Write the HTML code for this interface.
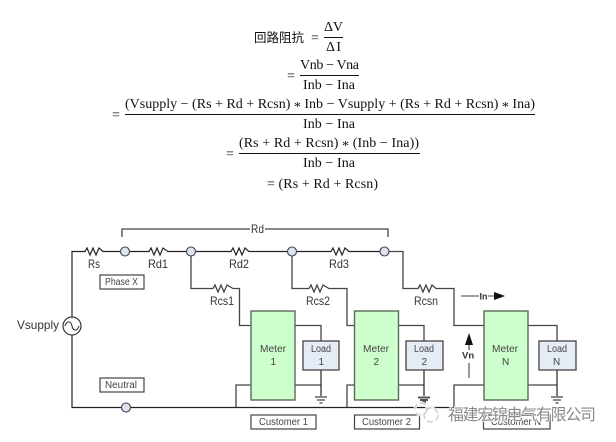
<!DOCTYPE html>
<html><head><meta charset="utf-8">
<style>
html,body{margin:0;padding:0;background:#fff;width:616px;height:442px;overflow:hidden}
svg{display:block;filter:blur(.3px)}
.m{font-family:"Liberation Serif","Noto Serif CJK SC",serif;font-size:14px;fill:#111}
.s{font-family:"Liberation Sans",sans-serif;font-size:12px;fill:#333}
.b{font-family:"Liberation Sans",sans-serif;font-size:10px;fill:#444}
.w{fill:none;stroke:#222;stroke-width:1.2}
.g{fill:none;stroke:#444;stroke-width:1.3}
.n{fill:#dde4f0;stroke:#445;stroke-width:1.1}
.mt{fill:#ccffcc;stroke:#5a6a5a;stroke-width:1.4}
.ld{fill:#e6ecf6;stroke:#444;stroke-width:1.3}
.bx{fill:#fff;stroke:#444;stroke-width:1.2}
</style></head><body>
<svg width="616" height="442" viewBox="0 0 616 442" xmlns="http://www.w3.org/2000/svg">
<!-- equations -->
<text class="m" x="254" y="42" textLength="50" style="font-family:'Noto Sans CJK SC',sans-serif;font-size:12.5px">回路阻抗</text>
<text class="m" x="311" y="42">=</text>
<text class="m" x="324" y="31" textLength="19">Δ V</text>
<path d="M324 37.5H343" stroke="#111"/>
<text class="m" x="326" y="51" textLength="15">Δ I</text>
<text class="m" x="287" y="80">=</text>
<text class="m" x="300" y="69" textLength="59">Vnb − Vna</text>
<path d="M300 75.5H359" stroke="#111"/>
<text class="m" x="303" y="89" textLength="52">Inb − Ina</text>
<text class="m" x="112" y="119">=</text>
<text class="m" x="125" y="108" textLength="410">(Vsupply − (Rs + Rd + Rcsn) <tspan dy="3">*</tspan><tspan dy="-3"> Inb − Vsupply + (Rs + Rd + Rcsn) </tspan><tspan dy="3">*</tspan><tspan dy="-3"> Ina)</tspan></text>
<path d="M125 114.5H535" stroke="#111"/>
<text class="m" x="303" y="128" textLength="52">Inb − Ina</text>
<text class="m" x="226" y="158">=</text>
<text class="m" x="239" y="147" textLength="180">(Rs + Rd + Rcsn) <tspan dy="3">*</tspan><tspan dy="-3"> (Inb − Ina))</tspan></text>
<path d="M239 153.5H420" stroke="#111"/>
<text class="m" x="303" y="167" textLength="52">Inb − Ina</text>
<text class="m" x="267" y="188" textLength="111">= (Rs + Rd + Rcsn)</text>

<!-- Rd bracket -->
<path class="g" d="M122 237V229H250M265 229H388V237"/>
<text class="s" x="251" y="233" textLength="13" lengthAdjust="spacingAndGlyphs">Rd</text>

<!-- main phase wires -->
<path class="w" d="M72 317V251.500H85L87 248L90 255L93 248L96 255L99 248L103 251.500H125"/>
<path class="w" d="M125 251.500H149L151 248L154 255L157 248L160 255L163 248L168 251.500H191"/>
<path class="w" d="M191 251.500H231L233 248L236 255L239 248L242 255L245 248L249 251.500H292"/>
<path class="w" d="M292 251.500H331L333 248L336 255L339 248L342 255L345 248L349 251.500H384"/>
<path class="g" d="M384 251.500H403V288.500H418L420 285L423 292L426 285L429 292L432 285L436 288.500H454V325.500H484"/>
<path class="g" d="M191 251.500V288.500H213L215 285L218 292L221 285L224 292L227 285L233 288.500H239.500V325.500H251"/>
<path class="g" d="M292 251.500V288.500H309L311 285L314 292L317 285L320 292L323 285L329 288.500H347V325.500H354"/>

<!-- neutral -->
<path class="w" d="M72 335V407.500H454"/>
<path class="g" d="M236 407V385H251M347 407V385H354M454 407V385H484"/>
<path class="g" d="M295 325.500H321V341M295 385H321M399 325.500H424V341M399 385H424M528 325.500H557V341M528 385H557"/>
<path class="w" d="M321 370V396M424 370V396M557 370V396"/>
<!-- grounds -->
<path stroke="#444" stroke-width="1.200" d="M315 397H327M317 400H325M319.500 403H322.500M551 397H563M553 400H561M555.500 403H558.500"/>
<path stroke="#555" stroke-width="2" d="M418 397.500H430M420 400H428M422 402H426"/>

<!-- nodes -->
<circle class="n" cx="125" cy="251.500" r="4.500"/>
<circle class="n" cx="191" cy="251.500" r="4.500"/>
<circle class="n" cx="292" cy="251.500" r="4.500"/>
<circle class="n" cx="384.500" cy="251.500" r="4.500"/>
<circle class="n" cx="126" cy="407.500" r="4.500"/>

<!-- source -->
<circle cx="72" cy="326" r="9" fill="#fff" stroke="#333" stroke-width="1.200"/>
<path d="M65 326C67 320 71 321 72 326C73 331 77 332 79 326" fill="none" stroke="#333" stroke-width="1.100"/>
<text class="s" x="17" y="329" textLength="42" lengthAdjust="spacingAndGlyphs">Vsupply</text>

<!-- labels -->
<text class="s" x="88" y="268" textLength="12" lengthAdjust="spacingAndGlyphs">Rs</text>
<text class="s" x="148" y="268" textLength="20" lengthAdjust="spacingAndGlyphs">Rd1</text>
<text class="s" x="229" y="268" textLength="20" lengthAdjust="spacingAndGlyphs">Rd2</text>
<text class="s" x="329" y="268" textLength="20" lengthAdjust="spacingAndGlyphs">Rd3</text>
<text class="s" x="210" y="305" textLength="24" lengthAdjust="spacingAndGlyphs">Rcs1</text>
<text class="s" x="306" y="305" textLength="24" lengthAdjust="spacingAndGlyphs">Rcs2</text>
<text class="s" x="414" y="305" textLength="24" lengthAdjust="spacingAndGlyphs">Rcsn</text>

<rect class="bx" x="100" y="275" width="44" height="14"/>
<text class="b" x="105" y="285" textLength="33" lengthAdjust="spacingAndGlyphs">Phase X</text>
<rect class="bx" x="100" y="378" width="44" height="14"/>
<text class="b" x="105" y="388" textLength="32" lengthAdjust="spacingAndGlyphs">Neutral</text>

<!-- meters -->
<rect class="mt" x="251" y="311" width="44" height="89"/>
<text class="b" x="260" y="352" textLength="26" lengthAdjust="spacingAndGlyphs">Meter</text><text class="b" x="270.500" y="365">1</text>
<rect class="mt" x="354.500" y="311" width="44" height="89"/>
<text class="b" x="363" y="352" textLength="26" lengthAdjust="spacingAndGlyphs">Meter</text><text class="b" x="373.500" y="365">2</text>
<rect class="mt" x="484" y="311" width="44" height="89"/>
<text class="b" x="492" y="352" textLength="26" lengthAdjust="spacingAndGlyphs">Meter</text><text class="b" x="502" y="365">N</text>

<!-- loads -->
<rect class="ld" x="303" y="341" width="36" height="29"/>
<text class="b" x="311" y="352" textLength="20" lengthAdjust="spacingAndGlyphs">Load</text><text class="b" x="318.500" y="365">1</text>
<rect class="ld" x="406" y="341" width="37" height="29"/>
<text class="b" x="414" y="352" textLength="20" lengthAdjust="spacingAndGlyphs">Load</text><text class="b" x="421.500" y="365">2</text>
<rect class="ld" x="539" y="341" width="37" height="29"/>
<text class="b" x="547" y="352" textLength="20" lengthAdjust="spacingAndGlyphs">Load</text><text class="b" x="553" y="365">N</text>

<!-- customers -->
<rect class="bx" x="251" y="415" width="65" height="14"/>
<text class="b" x="259" y="425" textLength="49" lengthAdjust="spacingAndGlyphs">Customer 1</text>
<rect class="bx" x="354.500" y="415" width="65" height="14"/>
<text class="b" x="362" y="425" textLength="49" lengthAdjust="spacingAndGlyphs">Customer 2</text>
<rect class="bx" x="483.500" y="415" width="66.500" height="14"/>
<text class="b" x="491" y="425" textLength="50" lengthAdjust="spacingAndGlyphs">Customer N</text>

<!-- In / Vn -->
<path stroke="#444" stroke-width="1.100" d="M461 296H479M488 296H495"/>
<path d="M494 292L505 296L494 300Z" fill="#111"/>
<text class="s" x="479.500" y="299.500" style="font-size:9px;font-weight:bold">In</text>
<path stroke="#444" stroke-width="1.100" d="M469 363V378"/>
<path d="M469 333L465 345H473Z" fill="#111"/><path stroke="#444" stroke-width="1.100" d="M469 345V350"/>
<text class="s" x="462" y="358.500" style="font-size:9.500px;font-weight:bold">Vn</text>

<!-- watermark -->
<g fill="none" stroke="#fff" stroke-width="3" opacity=".9"><circle cx="421" cy="409" r="6"/><circle cx="431" cy="415" r="7"/></g>
<g fill="none" stroke="#bbb" stroke-width="1"><circle cx="421" cy="409" r="6" stroke-dasharray="6 3"/><circle cx="431" cy="415" r="7" stroke-dasharray="6 3"/></g>
<text x="448" y="420" textLength="148" style="font-family:'Noto Sans CJK SC',sans-serif;font-size:16px;fill:#8a8a8a;stroke:#fff;stroke-width:1.500;paint-order:stroke">福建宏锦电气有限公司</text>
</svg>
</body></html>
